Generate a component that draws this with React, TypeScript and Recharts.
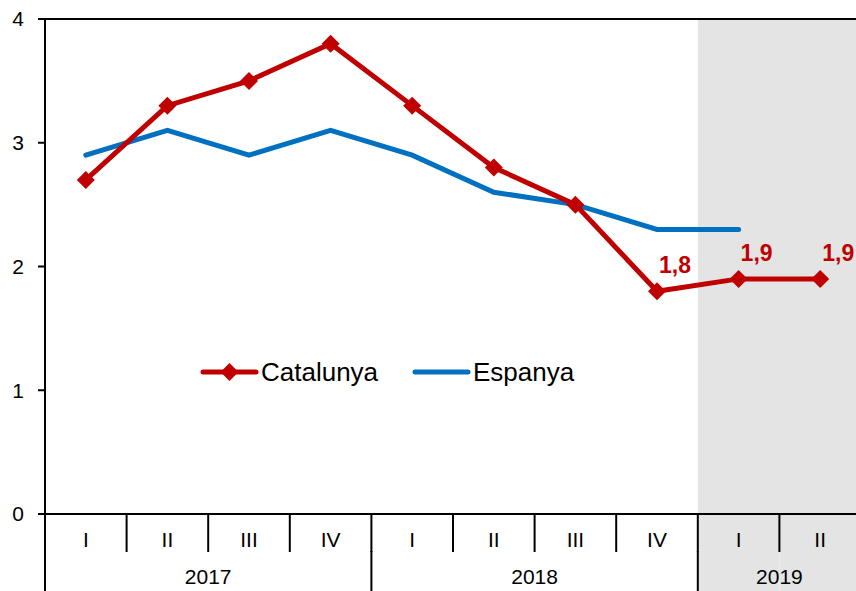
import React from 'react';
import { LineChart, Line, XAxis, YAxis, ReferenceArea, ReferenceLine, LabelList } from 'recharts';

const quarters = ['I', 'II', 'III', 'IV', 'I', 'II', 'III', 'IV', 'I', 'II'];
const years = ['2017', '2017', '2017', '2017', '2018', '2018', '2018', '2018', '2019', '2019'];
const catalunya = [2.7, 3.3, 3.5, 3.8, 3.3, 2.8, 2.5, 1.8, 1.9, 1.9];
const espanya: (number | null)[] = [2.9, 3.1, 2.9, 3.1, 2.9, 2.6, 2.5, 2.3, 2.3, null];
const yTicks = [0, 1, 2, 3, 4];
const labelledFrom = 7;
const shadedYear = '2019';
const seriesNames = ['Catalunya', 'Espanya'];

const RED = '#C00000';
const BLUE = '#0070C0';
const GREY = '#E4E4E4';
const FONT = "'Liberation Sans', Arial, sans-serif";

const CHART_W = 861;
const CHART_H = 591;
const MARGIN = { top: 19, right: 0, left: 0, bottom: 0 };
const Y_W = 45;
const QH = 38;
const YH = 39;
const BAND = (CHART_W - Y_W - MARGIN.left - MARGIN.right) / quarters.length;

const data = quarters.map((q, i) => ({
  key: `${years[i]}-${q}`,
  q,
  year: years[i],
  cat: catalunya[i],
  esp: espanya[i],
}));

const idxOf = (v: string) => data.findIndex((d) => d.key === v);

const QuarterTick = (props: any) => {
  const { x, y, payload } = props;
  const i = idxOf(payload.value);
  if (i < 0) return null;
  const d = data[i];
  const left = x - BAND / 2;
  return (
    <g>
      {d.year === shadedYear && <rect x={left} y={y + 1} width={BAND} height={QH - 1} fill={GREY} />}
      <line x1={left} x2={left} y1={y} y2={y + QH} stroke="#000" strokeWidth={2} />
      <text x={x} y={y + 33} textAnchor="middle" fontSize={21} fontFamily={FONT} fill="#000">
        {d.q}
      </text>
    </g>
  );
};

const YearTick = (props: any) => {
  const { x, y, payload } = props;
  const i = idxOf(payload.value);
  if (i < 0) return null;
  const d = data[i];
  const left = x - BAND / 2;
  const isStart = i === 0 || years[i - 1] !== d.year;
  let first = i;
  while (first > 0 && years[first - 1] === d.year) first--;
  let last = i;
  while (last < years.length - 1 && years[last + 1] === d.year) last++;
  const center = (first + last) / 2;
  const showLabel = i === Math.ceil(center);
  return (
    <g>
      {d.year === shadedYear && <rect x={left} y={y} width={BAND} height={YH} fill={GREY} />}
      {isStart && <line x1={left} x2={left} y1={y - 1} y2={y + YH} stroke="#000" strokeWidth={2} />}
      {showLabel && (
        <text x={x + (center - i) * BAND} y={y + 32} textAnchor="middle" fontSize={21} fontFamily={FONT} fill="#000">
          {d.year}
        </text>
      )}
    </g>
  );
};

const Diamond = (props: any) => {
  const { cx, cy } = props;
  if (cx == null || cy == null) return null;
  const h = 9;
  return (
    <polygon
      points={`${cx},${cy - h} ${cx + h},${cy} ${cx},${cy + h} ${cx - h},${cy}`}
      fill={RED}
      stroke="none"
    />
  );
};

const ValueLabel = (props: any) => {
  const { x, y, value, index } = props;
  if (index < labelledFrom || value == null) return null;
  return (
    <text x={x + 18} y={y - 18} textAnchor="middle" fontSize={23} fontWeight="bold" fontFamily={FONT} fill={RED}>
      {String(value).replace('.', ',')}
    </text>
  );
};

const LegendBox = () => {
  const items = [
    { name: seriesNames[0], color: RED, marker: true, x: 8 },
    { name: seriesNames[1], color: BLUE, marker: false, x: 220 },
  ];
  return (
    <svg
      width={420}
      height={44}
      style={{ position: 'absolute', left: 195, top: 350, overflow: 'visible' }}
    >
      {items.map((it) => (
        <g key={it.name}>
          <line x1={it.x} x2={it.x + 53} y1={22} y2={22} stroke={it.color} strokeWidth={5} strokeLinecap="round" />
          {it.marker && <Diamond cx={it.x + 26.5} cy={22} />}
          <text x={it.x + 58} y={31} fontSize={26} fontFamily={FONT} fill="#000">
            {it.name}
          </text>
        </g>
      ))}
    </svg>
  );
};

export default function App() {
  return (
    <div
      style={{
        position: 'absolute',
        left: 0,
        top: 0,
        width: 856,
        height: 591,
        overflow: 'hidden',
        background: '#fff',
      }}
    >
      <LineChart width={CHART_W} height={CHART_H} data={data} margin={MARGIN}>
        <ReferenceArea x1={data[8].key} x2={data[9].key} y1={0} y2={4} fill={GREY} fillOpacity={1} stroke="none" />
        <XAxis
          dataKey="key"
          scale="band"
          height={QH}
          interval={0}
          tickSize={0}
          tickMargin={0}
          tickLine={false}
          axisLine={{ stroke: '#000', strokeWidth: 2 }}
          tick={<QuarterTick />}
        />
        <XAxis
          xAxisId="year"
          dataKey="key"
          scale="band"
          height={YH}
          interval={0}
          tickSize={0}
          tickMargin={0}
          tickLine={false}
          axisLine={false}
          tick={<YearTick />}
        />
        <YAxis
          width={Y_W}
          domain={[0, 4]}
          ticks={yTicks}
          interval={0}
          tickSize={7}
          tickMargin={14}
          axisLine={{ stroke: '#000', strokeWidth: 2 }}
          tickLine={{ stroke: '#000', strokeWidth: 2 }}
          tick={{ fontSize: 21, fontFamily: FONT, fill: '#000' }}
        />
        <ReferenceLine y={4} stroke="#000" strokeWidth={2} />
        <Line
          xAxisId="year"
          dataKey="cat"
          stroke="none"
          dot={false}
          activeDot={false}
          legendType="none"
          isAnimationActive={false}
        />
        <Line
          dataKey="esp"
          name={seriesNames[1]}
          stroke={BLUE}
          strokeWidth={5}
          strokeLinecap="round"
          dot={false}
          activeDot={false}
          isAnimationActive={false}
        />
        <Line
          dataKey="cat"
          name={seriesNames[0]}
          stroke={RED}
          strokeWidth={5}
          dot={(p: any) => <Diamond key={`d-${p.index}`} cx={p.cx} cy={p.cy} />}
          activeDot={false}
          isAnimationActive={false}
        >
          <LabelList dataKey="cat" content={<ValueLabel />} />
        </Line>
      </LineChart>
      <LegendBox />
    </div>
  );
}
